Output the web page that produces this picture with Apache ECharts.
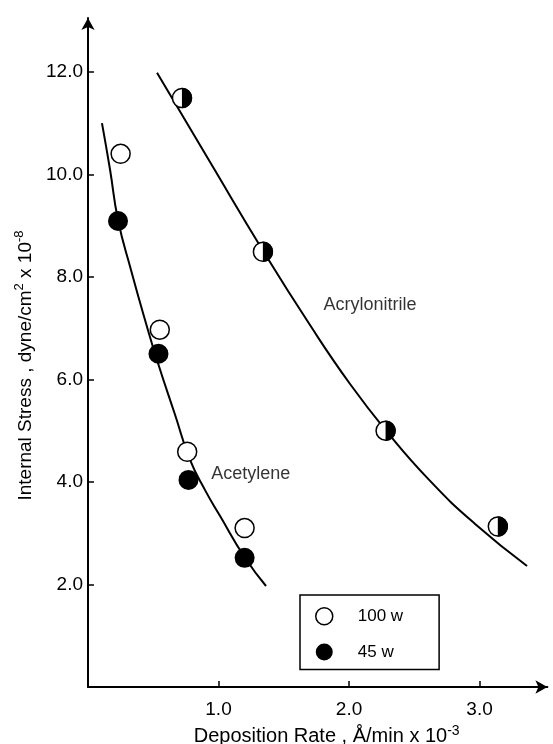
<!DOCTYPE html>
<html>
<head>
<meta charset="utf-8">
<script src="https://cdn.jsdelivr.net/npm/echarts@6/dist/echarts.min.js"></script>
<style>html,body{margin:0;padding:0;background:#fff}#c{width:553px;height:744px}</style>
</head>
<body>
<div id="c"></div>
<script>
// ---- data ----
const acet100X = [0.25, 0.55, 0.76, 1.20];
const acet100Y = [10.4, 6.97, 4.59, 3.10];
const acet45X = [0.23, 0.54, 0.77, 1.20];
const acet45Y = [9.09, 6.50, 4.04, 2.52];
const acryX = [0.72, 1.34, 2.28, 3.14];
const acryY = [11.49, 8.49, 5.00, 3.13];
const acetCurveX = [0.107, 0.169, 0.230, 0.330, 0.437, 0.536, 0.667, 0.782, 0.897, 1.011, 1.203, 1.364];
const acetCurveY = [11.00, 10.09, 9.11, 8.13, 7.16, 6.32, 5.31, 4.43, 3.84, 3.34, 2.52, 1.97];
const acryCurveX = [0.529, 0.935, 1.341, 1.701, 2.008, 2.284, 2.621, 2.966, 3.364];
const acryCurveY = [11.98, 10.24, 8.51, 7.06, 5.91, 5.00, 4.02, 3.18, 2.36];
const xTicks = [1, 2, 3];
const yTicks = [2, 4, 6, 8, 10, 12];
const noteText = ['Acetylene', 'Acrylonitrile'];
const noteX = [0.94, 1.80];
const noteY = [4.16, 7.46];
const legendNames = ['100 w', '45 w'];

const FF = '"Liberation Sans", Arial, sans-serif';
const zip = (xs, ys) => xs.map((x, i) => [x, ys[i]]);
const halfPath = 'path://M0 0 C5.523 0 10 4.477 10 10 C10 15.523 5.523 20 0 20 Z';

const chart = echarts.init(document.getElementById('c'), null, {renderer: 'canvas'});
const option = {
  animation: false,
  backgroundColor: '#fff',
  textStyle: {fontFamily: FF, color: '#000'},
  grid: {left: 88, top: 18, width: 459.4, height: 669, containLabel: false, outerBoundsMode: 'none'},
  xAxis: {
    type: 'value', min: 0, max: 3.52,
    axisLine: {symbol: ['none', 'arrow'], symbolSize: [10, 12], lineStyle: {color: '#000', width: 2}},
    axisTick: {inside: true, length: 6, customValues: xTicks, lineStyle: {color: '#000', width: 1.5}},
    axisLabel: {customValues: xTicks, formatter: v => v.toFixed(1), margin: 13, fontSize: 19, color: '#000', fontFamily: FF},
    splitLine: {show: false},
    name: '{n|Deposition Rate , Å/min x 10}{s|-3}',
    nameLocation: 'middle', nameGap: 34,
    nameTextStyle: {
      padding: [0, 0, 0, 18],
      rich: {
        n: {fontSize: 20, color: '#000', fontFamily: FF, lineHeight: 26},
        s: {fontSize: 14, color: '#000', fontFamily: FF, verticalAlign: 'top', lineHeight: 14}
      }
    }
  },
  yAxis: {
    type: 'value', min: 0, max: 13.05,
    axisLine: {symbol: ['none', 'arrow'], symbolSize: [10, 12], lineStyle: {color: '#000', width: 2}},
    axisTick: {inside: true, length: 6, customValues: yTicks, lineStyle: {color: '#000', width: 1.5}},
    axisLabel: {customValues: yTicks, formatter: v => v.toFixed(1), margin: 5, fontSize: 19, color: '#000', fontFamily: FF},
    splitLine: {show: false},
    name: '{n|Internal Stress , dyne/cm}{s|2}{n| x 10}{s|-8}',
    nameLocation: 'middle', nameGap: 48,
    nameTextStyle: {
      padding: [0, 26, 0, 0],
      rich: {
        n: {fontSize: 19, color: '#000', fontFamily: FF, lineHeight: 26},
        s: {fontSize: 13, color: '#000', fontFamily: FF, verticalAlign: 'top', lineHeight: 14}
      }
    }
  },
  legend: {
    left: 300, top: 595, orient: 'vertical',
    borderColor: '#000', borderWidth: 1.5, borderRadius: 0,
    padding: [12, 36, 9, 15],
    itemWidth: 17, itemHeight: 17, itemGap: 18,
    textStyle: {fontSize: 17, color: '#000', fontFamily: FF, padding: [0, 0, 0, 20]},
    data: [
      {name: legendNames[0], icon: 'circle', itemStyle: {color: '#fff', borderColor: '#000', borderWidth: 1.5}},
      {name: legendNames[1], icon: 'circle', itemStyle: {color: '#000', borderWidth: 0}}
    ]
  },
  series: [
    {
      name: 'Acetylene curve', type: 'line', smooth: 0.5, showSymbol: false, silent: true,
      data: zip(acetCurveX, acetCurveY), lineStyle: {color: '#000', width: 2}, z: 2
    },
    {
      name: 'Acrylonitrile curve', type: 'line', smooth: 0.5, showSymbol: false, silent: true,
      data: zip(acryCurveX, acryCurveY), lineStyle: {color: '#000', width: 2}, z: 2
    },
    {
      name: legendNames[0], type: 'scatter', symbol: 'circle', symbolSize: 19,
      data: zip(acet100X, acet100Y),
      itemStyle: {color: '#fff', borderColor: '#000', borderWidth: 1.5, opacity: 1}, z: 3
    },
    {
      name: legendNames[1], type: 'scatter', symbol: 'circle', symbolSize: 20,
      data: zip(acet45X, acet45Y),
      itemStyle: {color: '#000', opacity: 1}, z: 3
    },
    {
      name: 'Acrylonitrile', type: 'scatter', symbol: 'circle', symbolSize: 19,
      data: zip(acryX, acryY),
      itemStyle: {color: '#fff', borderColor: '#000', borderWidth: 1.5, opacity: 1}, z: 3
    },
    {
      name: 'Acrylonitrile half', type: 'scatter', symbol: halfPath, symbolKeepAspect: false,
      symbolSize: [10.2, 20.4], symbolOffset: [5.1, 0],
      data: zip(acryX, acryY),
      itemStyle: {color: '#000', opacity: 1}, z: 4
    },
    {
      name: 'notes', type: 'scatter', symbolSize: 1, silent: true,
      itemStyle: {color: 'rgba(0,0,0,0)'},
      data: noteText.map((t, i) => ({value: [noteX[i], noteY[i]], name: t})),
      label: {show: true, position: 'right', distance: 0, formatter: p => p.name, fontSize: 18, color: '#000', fontFamily: FF},
      z: 5
    }
  ]
};
chart.setOption(option);
</script>
</body>
</html>
